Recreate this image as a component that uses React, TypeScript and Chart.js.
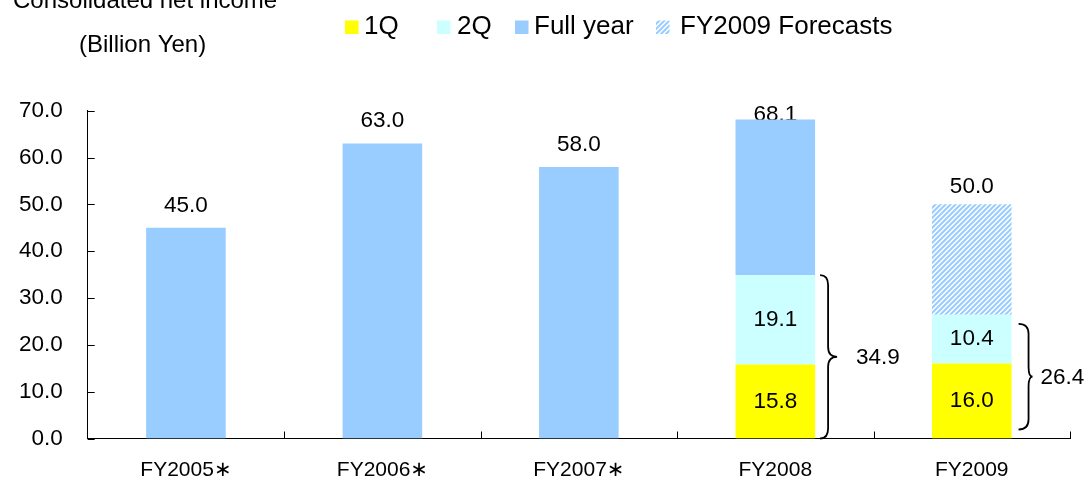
import React, { useEffect, useRef } from "react";
import { Chart, registerables } from "chart.js";

Chart.register(...registerables);

// ---- data ----
const categories = ["FY2005\u2217", "FY2006\u2217", "FY2007\u2217", "FY2008", "FY2009"];
const q1Values: (number | null)[] = [null, null, null, 15.8, 16.0];
const q2Values: (number | null)[] = [null, null, null, 19.1, 10.4];
const fullYearTotals: (number | null)[] = [45.0, 63.0, 58.0, 68.1, null];
const forecastTotals: (number | null)[] = [null, null, null, null, 50.0];
const halfYearTotals: (number | null)[] = [null, null, null, 34.9, 26.4];
const yTickValues = [0, 10, 20, 30, 40, 50, 60, 70];
const legendLabels = ["1Q", "2Q", "Full year", "FY2009 Forecasts"];
const titleLines = ["Consolidated net income", "(Billion Yen)"];

// ---- styles ----
const FONT = "'Liberation Sans', Arial, 'DejaVu Sans', sans-serif";
const COLOR_Q1 = "#FFFF00";
const COLOR_Q2 = "#CCFFFF";
const COLOR_FY = "#99CCFF";
const legendBoxX = [345, 437, 515, 656];
const legendTextX = [364, 457, 534, 680];
const topLabelGap = [16, 16, 16, 11, 11];
const braceStyles: Record<number, { gap: number; spine: number; tip: number; inset: number; labelGap: number }> = {
  3: { gap: 5, spine: 8, tip: 17, inset: 0, labelGap: 19 },
  4: { gap: 7, spine: 10, tip: 14, inset: 9, labelGap: 8 },
};

const remainder = (totals: (number | null)[]) =>
  totals.map((t, i) => (t == null ? null : +(t - (q1Values[i] ?? 0) - (q2Values[i] ?? 0)).toFixed(1)));

function makeHatch(): CanvasPattern | string {
  const c = document.createElement("canvas");
  const n = 5;
  c.width = n;
  c.height = n;
  const g = c.getContext("2d");
  if (!g) return COLOR_FY;
  g.fillStyle = "#ffffff";
  g.fillRect(0, 0, n, n);
  g.strokeStyle = COLOR_FY;
  g.lineWidth = 2;
  g.beginPath();
  for (const k of [0, n, 2 * n]) {
    g.moveTo(k - n - 1, n + 1);
    g.lineTo(k + 1, -1);
  }
  g.stroke();
  const p = g.createPattern(c, "repeat");
  return p || COLOR_FY;
}

function drawBrace(ctx: CanvasRenderingContext2D, x: number, yTop: number, yBot: number, spine: number, tip: number) {
  const mid = (yTop + yBot) / 2;
  const xs = x + spine;
  const r = Math.min(10, (yBot - yTop) / 6);
  ctx.beginPath();
  ctx.moveTo(x, yTop);
  ctx.quadraticCurveTo(xs, yTop, xs, yTop + r);
  ctx.lineTo(xs, mid - r);
  ctx.quadraticCurveTo(xs, mid, x + tip, mid);
  ctx.quadraticCurveTo(xs, mid, xs, mid + r);
  ctx.lineTo(xs, yBot - r);
  ctx.quadraticCurveTo(xs, yBot, x, yBot);
  ctx.stroke();
}

export default function App() {
  const ref = useRef<HTMLCanvasElement | null>(null);

  useEffect(() => {
    if (!ref.current) return;
    const hatch = makeHatch();

    const decor = {
      id: "decor",
      beforeDatasetsDraw(chart: any) {
        const ctx: CanvasRenderingContext2D = chart.ctx;
        const ys = chart.scales.y;
        const xs = chart.scales.x;
        const area = chart.chartArea;
        ctx.save();
        ctx.fillStyle = "#000";
        ctx.font = `22.5px ${FONT}`;
        ctx.textAlign = "center";
        ctx.textBaseline = "alphabetic";
        categories.forEach((_, i) => {
          const total = fullYearTotals[i] ?? forecastTotals[i];
          if (total == null) return;
          const yTop = ys.getPixelForValue(total);
          const base = Math.max(yTop - topLabelGap[i], area.top + 10);
          ctx.fillText(total.toFixed(1), xs.getPixelForValue(i), base);
        });
        ctx.restore();
      },
      afterDatasetsDraw(chart: any) {
        const ctx: CanvasRenderingContext2D = chart.ctx;
        const ys = chart.scales.y;
        const xs = chart.scales.x;
        const area = chart.chartArea;
        ctx.save();
        // inside labels
        ctx.fillStyle = "#000";
        ctx.font = `22.5px ${FONT}`;
        ctx.textAlign = "center";
        ctx.textBaseline = "middle";
        categories.forEach((_, i) => {
          const a = q1Values[i];
          const b = q2Values[i];
          const x = xs.getPixelForValue(i);
          if (a != null) ctx.fillText(a.toFixed(1), x, (ys.getPixelForValue(0) + ys.getPixelForValue(a)) / 2);
          if (b != null)
            ctx.fillText(b.toFixed(1), x, (ys.getPixelForValue(a ?? 0) + ys.getPixelForValue((a ?? 0) + b)) / 2);
        });
        // braces
        const meta = chart.getDatasetMeta(0);
        ctx.strokeStyle = "#000";
        ctx.lineWidth = 1.8;
        categories.forEach((_, i) => {
          const h = halfYearTotals[i];
          if (h == null) return;
          const st = braceStyles[i] || { gap: 5, spine: 8, tip: 15, inset: 0, labelGap: 10 };
          const bar = meta.data[i] as any;
          const barRight = bar ? bar.x + bar.width / 2 : xs.getPixelForValue(i) + 40;
          const yTop = ys.getPixelForValue(h) + st.inset;
          const yBot = ys.getPixelForValue(0) - st.inset;
          const bx = barRight + st.gap;
          drawBrace(ctx, bx, yTop, yBot, st.spine, st.tip);
          ctx.textAlign = "left";
          ctx.textBaseline = "middle";
          ctx.fillText(h.toFixed(1), bx + st.tip + st.labelGap, (yTop + yBot) / 2 + 1);
        });
        // inside tick marks
        ctx.lineWidth = 1;
        ctx.beginPath();
        yTickValues.forEach((v) => {
          const y = Math.round(ys.getPixelForValue(v)) + 0.5;
          ctx.moveTo(area.left, y);
          ctx.lineTo(area.left + 7, y);
        });
        const n = categories.length;
        const w = (area.right - area.left) / n;
        for (let k = 1; k <= n; k++) {
          const x = Math.round(area.left + k * w) + 0.5;
          ctx.moveTo(x, area.bottom);
          ctx.lineTo(x, area.bottom - 7);
        }
        ctx.stroke();
        ctx.restore();
      },
      afterDraw(chart: any) {
        const ctx: CanvasRenderingContext2D = chart.ctx;
        ctx.save();
        ctx.fillStyle = "#000";
        ctx.textAlign = "left";
        ctx.textBaseline = "alphabetic";
        ctx.font = `24px ${FONT}`;
        ctx.fillText(titleLines[0], 13, 8);
        ctx.fillText(titleLines[1], 79, 52);
        // legend
        const fills: (string | CanvasPattern)[] = [COLOR_Q1, COLOR_Q2, COLOR_FY, hatch];
        ctx.font = `26px ${FONT}`;
        legendLabels.forEach((lab, i) => {
          ctx.fillStyle = fills[i] as any;
          ctx.fillRect(legendBoxX[i], 20.5, 13.5, 13.5);
          ctx.fillStyle = "#000";
          ctx.fillText(lab, legendTextX[i], 33.5);
        });
        ctx.restore();
      },
    };

    const chart = new Chart(ref.current, {
      type: "bar",
      data: {
        labels: categories,
        datasets: [
          { label: legendLabels[0], data: q1Values, backgroundColor: COLOR_Q1 },
          { label: legendLabels[1], data: q2Values, backgroundColor: COLOR_Q2 },
          { label: legendLabels[2], data: remainder(fullYearTotals), backgroundColor: COLOR_FY },
          { label: legendLabels[3], data: remainder(forecastTotals), backgroundColor: hatch as any },
        ] as any,
      },
      options: {
        animation: false,
        responsive: true,
        maintainAspectRatio: false,
        datasets: { bar: { barPercentage: 0.405, categoryPercentage: 1 } },
        layout: { padding: { top: 110.7, right: 19, left: 0, bottom: 0 } },
        plugins: { legend: { display: false }, tooltip: { enabled: false }, title: { display: false } },
        scales: {
          x: {
            stacked: true,
            grid: { display: false, drawTicks: false },
            border: { display: true, color: "#000", width: 1 },
            ticks: { color: "#000", font: { family: FONT, size: 21 }, padding: 19, maxRotation: 0 },
            afterFit: (s: any) => {
              s.height = 43.5;
            },
          },
          y: {
            stacked: true,
            min: 0,
            max: 70,
            grid: { display: false, drawTicks: false },
            border: { display: true, color: "#000", width: 1 },
            ticks: {
              color: "#000",
              font: { family: FONT, size: 22.5 },
              padding: 25,
              callback: (v: any) => Number(v).toFixed(1),
            },
            afterBuildTicks: (s: any) => {
              s.ticks = yTickValues.map((v) => ({ value: v }));
            },
            afterFit: (s: any) => {
              s.width = 87.7;
            },
          },
        },
      } as any,
      plugins: [decor],
    });
    return () => chart.destroy();
  }, []);

  return (
    <div style={{ position: "fixed", left: 0, top: 0, width: 1089, height: 482, background: "#fff" }}>
      <canvas ref={ref} />
    </div>
  );
}
